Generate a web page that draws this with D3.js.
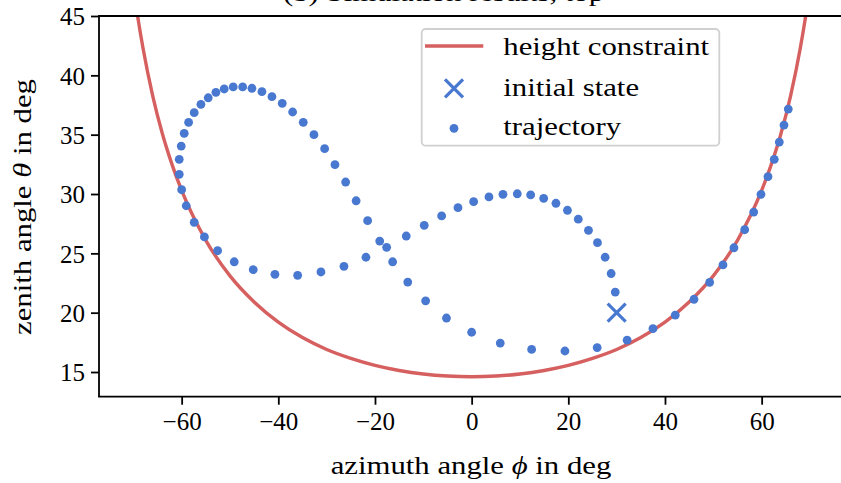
<!DOCTYPE html>
<html><head><meta charset="utf-8">
<script src="https://cdn.jsdelivr.net/npm/d3@7"></script>
<style>
html,body{margin:0;padding:0;background:#fff;}
svg text{font-family:"Liberation Serif","DejaVu Serif",serif;fill:#000;}
</style></head>
<body><svg id="chart" width="841" height="483"></svg>
<script>
// Height constraint curve (azimuth phi, zenith theta)
const constraintPhi   = [-70, -69.3, -68, -66, -64, -62, -60, -55, -50, -45, -40, -35, -30, -25, -20, -15, -10, -5, 0, 5, 10, 15, 20, 25, 30, 35, 40, 45, 50, 55, 60, 62, 64, 66, 68, 69.3, 70];
const constraintTheta = [47.5, 45.5, 42.3, 38.3, 35.1, 32.5, 30.3, 26.1, 23.1, 20.9, 19.2, 17.9, 16.9, 16.15, 15.56, 15.13, 14.83, 14.66, 14.6, 14.66, 14.83, 15.13, 15.56, 16.15, 16.9, 17.9, 19.2, 20.9, 23.1, 26.1, 30.3, 32.5, 35.1, 38.3, 42.3, 45.5, 47.5];

// Initial state
const initPhi = [30.0];
const initTheta = [20.0];

// Trajectory points
const trajPhi = [29.71, 28.86, 27.62, 26.03, 24.17, 22.06, 19.82, 17.44, 14.90, 12.21, 9.44, 6.48, 3.58, 0.41, -2.83, -6.21, -9.81, -13.53, -17.59, -21.87,
  -26.42, -31.18, -36.00, -40.70, -45.19, -49.12, -52.56, -55.29, -57.40, -59.05, -60.00, -60.50, -60.50, -60.09, -59.47, -58.56, -57.40, -56.01, -54.50, -52.91,
  -51.19, -49.33, -47.38, -45.46, -43.39, -41.32, -39.19, -37.04, -34.84, -32.63, -30.42, -28.28, -26.07, -23.90, -21.52, -19.02, -16.35, -13.22, -9.52, -5.21,
  0.00, 5.92, 12.41, 19.30, 25.97, 32.17, 37.51, 42.13, 46.00, 49.24, 52.00, 54.27, 56.49, 58.35, 59.86, 61.31, 62.61, 63.65, 64.62, 65.51];
const trajTheta = [21.74, 23.30, 24.67, 25.90, 26.94, 27.88, 28.63, 29.22, 29.64, 29.92, 30.02, 29.97, 29.75, 29.35, 28.85, 28.15, 27.36, 26.46, 25.51, 24.67,
  23.91, 23.43, 23.15, 23.23, 23.62, 24.29, 25.22, 26.38, 27.61, 29.01, 30.36, 31.66, 32.92, 34.04, 35.11, 36.04, 36.85, 37.56, 38.11, 38.57,
  38.85, 39.02, 39.02, 38.91, 38.62, 38.20, 37.64, 36.91, 36.04, 35.00, 33.82, 32.47, 31.01, 29.43, 27.75, 26.03, 24.29, 22.58, 21.00, 19.55,
  18.35, 17.44, 16.90, 16.77, 17.06, 17.68, 18.65, 19.80, 21.13, 22.56, 24.02, 25.47, 26.99, 28.48, 29.97, 31.46, 32.92, 34.38, 35.81, 37.16];

const xTicks = [-60, -40, -20, 0, 20, 40, 60];
const yTicks = [15, 20, 25, 30, 35, 40, 45];
const legendLabels = ["height constraint", "initial state", "trajectory"];

const RED = "#d65f5f", BLUE = "#4878d0";
const SX = 1.23; // horizontal widening to mimic Computer Modern proportions
const svg = d3.select("#chart");
const L = 99, R = 844.3, T = 16, B = 396.7;
const x = d3.scaleLinear().domain([-77.1, 77.1]).range([L, R]);
const y = d3.scaleLinear().domain([12.92, 45]).range([B, T]);

// partially visible title (cut by the top edge as in the reference)
svg.append("text").attr("transform", `translate(283,1) scale(${SX},1)`).attr("text-anchor", "start")
  .style("font-size", "25px").text("(b) Simulation results, top");

svg.append("defs").append("clipPath").attr("id", "clip")
  .append("rect").attr("x", L).attr("y", T).attr("width", R - L).attr("height", B - T);

const plot = svg.append("g").attr("clip-path", "url(#clip)");
const cdata = constraintPhi.map((p, i) => [p, constraintTheta[i]]);
plot.append("path").datum(cdata)
  .attr("d", d3.line().x(d => x(d[0])).y(d => y(d[1])).curve(d3.curveMonotoneX))
  .attr("fill", "none").attr("stroke", RED).attr("stroke-width", 3.4);

const tdata = trajPhi.map((p, i) => [p, trajTheta[i]]);
plot.selectAll("circle.traj").data(tdata).enter().append("circle")
  .attr("class", "traj").attr("cx", d => x(d[0])).attr("cy", d => y(d[1]))
  .attr("r", 4.4).attr("fill", BLUE);

const s = 9;
initPhi.forEach((p, i) => {
  const cx = x(p), cy = y(initTheta[i]);
  plot.append("path").attr("d", `M${cx - s},${cy - s}L${cx + s},${cy + s}M${cx - s},${cy + s}L${cx + s},${cy - s}`)
    .attr("stroke", BLUE).attr("stroke-width", 3.2).attr("fill", "none");
});

// axes
const xAxis = svg.append("g").attr("transform", `translate(0,${B})`)
  .call(d3.axisBottom(x).tickValues(xTicks).tickSize(8).tickPadding(8).tickFormat(d => d < 0 ? "\u2212" + Math.abs(d) : d));
const yAxis = svg.append("g").attr("transform", `translate(${L},0)`)
  .call(d3.axisLeft(y).tickValues(yTicks).tickSize(8).tickPadding(6));
[xAxis, yAxis].forEach(g => {
  g.select(".domain").remove();
  g.selectAll(".tick line").attr("stroke", "#000").attr("stroke-width", 1.8);
  g.selectAll(".tick text").style("font-size", "25px").attr("fill", "#000");
});
xAxis.selectAll(".tick text").attr("dy", "0.71em");
yAxis.selectAll(".tick text").attr("dy", "0.35em");

// spines
svg.append("line").attr("x1", L).attr("x2", L).attr("y1", T).attr("y2", B).attr("stroke", "#000").attr("stroke-width", 1.8);
svg.append("line").attr("x1", L - 0.9).attr("x2", R).attr("y1", B).attr("y2", B).attr("stroke", "#000").attr("stroke-width", 1.8);
svg.append("line").attr("x1", L - 0.9).attr("x2", R).attr("y1", T).attr("y2", T).attr("stroke", "#000").attr("stroke-width", 1.8);
svg.append("line").attr("x1", R).attr("x2", R).attr("y1", T).attr("y2", B).attr("stroke", "#000").attr("stroke-width", 1.8);

// axis labels
const xl = svg.append("text").attr("transform", `translate(471,474) scale(${SX},1)`).attr("text-anchor", "middle").style("font-size", "25px");
xl.append("tspan").text("azimuth angle ");
xl.append("tspan").style("font-style", "italic").text("\u03d5");
xl.append("tspan").text(" in deg");
const yl = svg.append("text").attr("transform", `translate(31,207) rotate(-90) scale(${SX},1)`).attr("text-anchor", "middle").style("font-size", "25px");
yl.append("tspan").text("zenith angle ");
yl.append("tspan").style("font-style", "italic").text("\u03b8");
yl.append("tspan").text(" in deg");

// legend
const lg = svg.append("g");
lg.append("rect").attr("x", 421.7).attr("y", 29).attr("width", 297.6).attr("height", 116.7)
  .attr("rx", 4).attr("fill", "#fff").attr("fill-opacity", 0.8).attr("stroke", "#d0d0d0").attr("stroke-width", 1.8);
lg.append("line").attr("x1", 425).attr("x2", 483.3).attr("y1", 46).attr("y2", 46).attr("stroke", RED).attr("stroke-width", 3.4);
const lx = 454, ly = 88.3;
lg.append("path").attr("d", `M${lx - s},${ly - s}L${lx + s},${ly + s}M${lx - s},${ly + s}L${lx + s},${ly - s}`)
  .attr("stroke", BLUE).attr("stroke-width", 3.2);
lg.append("circle").attr("cx", 454).attr("cy", 128.3).attr("r", 4.4).attr("fill", BLUE);
const baselines = [55, 95.5, 135];
legendLabels.forEach((t, i) => {
  lg.append("text").attr("transform", `translate(503.3,${baselines[i]}) scale(${SX},1)`).style("font-size", "25px").text(t);
});
</script></body></html>
